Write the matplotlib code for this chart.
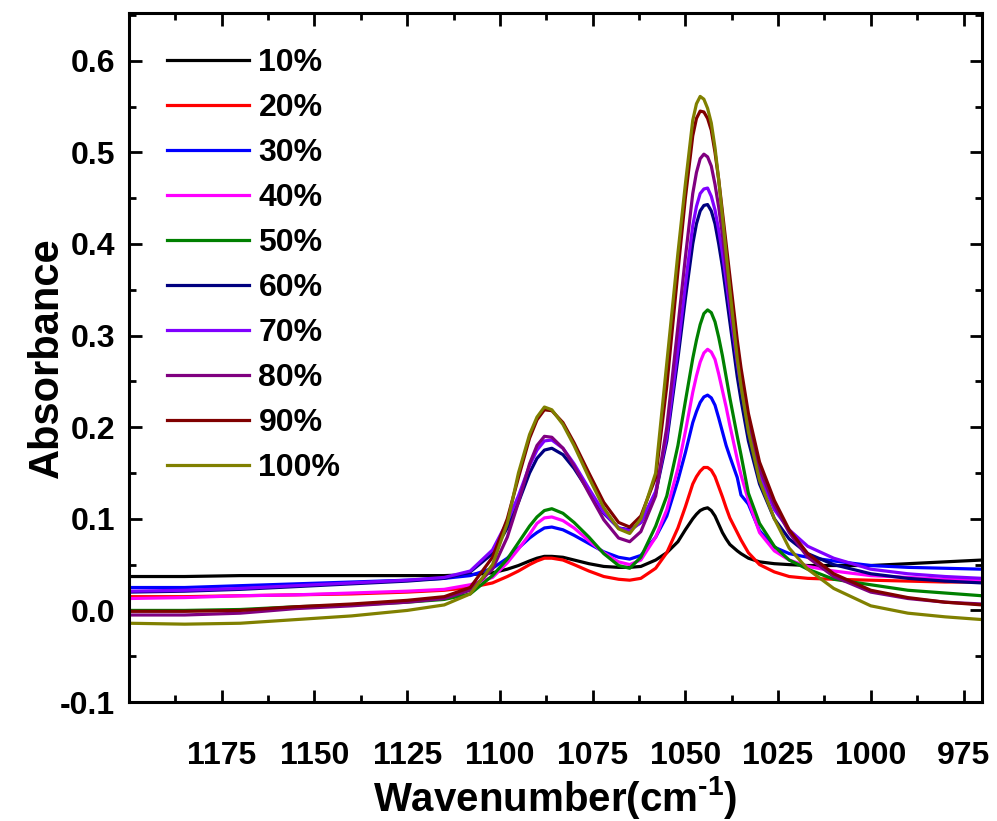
import matplotlib
matplotlib.use('Agg')
import matplotlib.pyplot as plt
from matplotlib.ticker import MultipleLocator

# wavenumber grid (cm-1)
wavenumber = [1200, 1185, 1170, 1155, 1140, 1125, 1115, 1108, 1102, 1098,
              1095, 1092, 1090, 1088, 1086, 1083, 1080, 1076, 1072, 1068,
              1065, 1062, 1058, 1055, 1052, 1050, 1048, 1047, 1046, 1045,
              1044, 1043, 1042, 1041, 1040, 1039, 1038, 1036, 1035, 1033,
              1030, 1026, 1022, 1017, 1010, 1000, 990, 980, 970]

abs_10 = [0.037, 0.037, 0.038, 0.038, 0.038, 0.038, 0.038, 0.039, 0.041, 0.045,
          0.049, 0.054, 0.057, 0.059, 0.059, 0.058, 0.055, 0.051, 0.048, 0.047,
          0.047, 0.048, 0.055, 0.063, 0.075, 0.088, 0.100, 0.105, 0.109, 0.111,
          0.112, 0.109, 0.103, 0.094, 0.085, 0.078, 0.072, 0.065, 0.062, 0.057,
          0.053, 0.051, 0.050, 0.049, 0.049, 0.049, 0.051, 0.053, 0.055]
abs_20 = [0.015, 0.015, 0.016, 0.017, 0.018, 0.020, 0.022, 0.025, 0.030, 0.037,
          0.043, 0.050, 0.054, 0.057, 0.057, 0.055, 0.050, 0.043, 0.037, 0.034,
          0.033, 0.035, 0.046, 0.063, 0.090, 0.113, 0.138, 0.146, 0.152, 0.156,
          0.156, 0.153, 0.146, 0.135, 0.124, 0.112, 0.101, 0.085, 0.077, 0.063,
          0.050, 0.042, 0.037, 0.035, 0.034, 0.033, 0.032, 0.031, 0.031]
abs_30 = [0.025, 0.025, 0.027, 0.029, 0.031, 0.033, 0.035, 0.038, 0.046, 0.057,
          0.068, 0.079, 0.085, 0.090, 0.091, 0.088, 0.082, 0.073, 0.064, 0.058,
          0.056, 0.060, 0.080, 0.103, 0.142, 0.172, 0.205, 0.217, 0.227, 0.233,
          0.235, 0.232, 0.224, 0.210, 0.195, 0.180, 0.168, 0.145, 0.126, 0.116,
          0.087, 0.069, 0.062, 0.058, 0.054, 0.049, 0.047, 0.046, 0.045]
abs_40 = [0.013, 0.014, 0.016, 0.017, 0.019, 0.021, 0.023, 0.028, 0.036, 0.052,
          0.067, 0.083, 0.095, 0.101, 0.102, 0.098, 0.090, 0.076, 0.063, 0.053,
          0.050, 0.055, 0.080, 0.110, 0.155, 0.195, 0.238, 0.256, 0.271, 0.281,
          0.285, 0.282, 0.274, 0.258, 0.240, 0.222, 0.202, 0.165, 0.148, 0.120,
          0.085, 0.065, 0.055, 0.048, 0.043, 0.038, 0.036, 0.034, 0.033]
abs_50 = [0.000, 0.000, 0.001, 0.004, 0.006, 0.009, 0.012, 0.018, 0.038, 0.056,
          0.074, 0.092, 0.102, 0.109, 0.111, 0.106, 0.096, 0.080, 0.062, 0.049,
          0.046, 0.058, 0.092, 0.125, 0.180, 0.228, 0.275, 0.295, 0.312, 0.324,
          0.328, 0.325, 0.315, 0.298, 0.278, 0.255, 0.232, 0.190, 0.170, 0.128,
          0.095, 0.070, 0.055, 0.045, 0.034, 0.028, 0.022, 0.019, 0.016]
abs_60 = [0.020, 0.021, 0.023, 0.026, 0.029, 0.032, 0.035, 0.042, 0.062, 0.090,
          0.118, 0.150, 0.166, 0.175, 0.177, 0.170, 0.155, 0.130, 0.106, 0.090,
          0.088, 0.096, 0.128, 0.185, 0.275, 0.340, 0.400, 0.422, 0.436, 0.442,
          0.443, 0.436, 0.422, 0.400, 0.375, 0.345, 0.315, 0.255, 0.230, 0.185,
          0.138, 0.100, 0.078, 0.062, 0.050, 0.040, 0.035, 0.032, 0.030]
abs_70 = [0.021, 0.022, 0.024, 0.027, 0.030, 0.033, 0.036, 0.043, 0.066, 0.097,
          0.125, 0.158, 0.175, 0.185, 0.186, 0.177, 0.160, 0.133, 0.107, 0.090,
          0.087, 0.096, 0.130, 0.190, 0.285, 0.355, 0.420, 0.441, 0.455, 0.460,
          0.461, 0.452, 0.437, 0.415, 0.390, 0.360, 0.330, 0.270, 0.245, 0.200,
          0.148, 0.110, 0.088, 0.070, 0.057, 0.045, 0.040, 0.037, 0.035]
abs_80 = [-0.005, -0.005, -0.003, 0.002, 0.005, 0.009, 0.013, 0.022, 0.045, 0.080,
          0.118, 0.160, 0.180, 0.190, 0.189, 0.177, 0.158, 0.128, 0.099, 0.079,
          0.075, 0.086, 0.125, 0.200, 0.310, 0.385, 0.455, 0.478, 0.493, 0.498,
          0.495, 0.485, 0.465, 0.440, 0.410, 0.375, 0.340, 0.275, 0.250, 0.205,
          0.155, 0.115, 0.085, 0.058, 0.037, 0.020, 0.013, 0.009, 0.007]
abs_90 = [-0.001, -0.001, 0.000, 0.004, 0.007, 0.011, 0.015, 0.025, 0.058, 0.100,
          0.145, 0.188, 0.208, 0.219, 0.218, 0.205, 0.183, 0.150, 0.118, 0.096,
          0.091, 0.103, 0.145, 0.245, 0.370, 0.450, 0.518, 0.537, 0.545, 0.544,
          0.537, 0.524, 0.500, 0.470, 0.435, 0.400, 0.365, 0.295, 0.265, 0.215,
          0.162, 0.120, 0.088, 0.062, 0.040, 0.022, 0.014, 0.009, 0.006]
abs_100 = [-0.014, -0.015, -0.014, -0.010, -0.006, 0.000, 0.006, 0.018, 0.050, 0.095,
           0.150, 0.192, 0.211, 0.222, 0.219, 0.203, 0.180, 0.145, 0.112, 0.089,
           0.084, 0.100, 0.150, 0.270, 0.390, 0.465, 0.535, 0.553, 0.561, 0.558,
           0.548, 0.532, 0.505, 0.470, 0.430, 0.390, 0.350, 0.275, 0.245, 0.195,
           0.142, 0.100, 0.068, 0.045, 0.024, 0.005, -0.003, -0.007, -0.010]

labels = ['10%', '20%', '30%', '40%', '50%', '60%', '70%', '80%', '90%', '100%']
colors = ['#000000', '#FF0000', '#0000FF', '#FF00FF', '#008000',
          '#000080', '#8000FF', '#800080', '#800000', '#808000']
series = [abs_10, abs_20, abs_30, abs_40, abs_50,
          abs_60, abs_70, abs_80, abs_90, abs_100]

plt.rcParams.update({
    'font.family': ['Liberation Sans', 'DejaVu Sans'],
    'font.weight': 'bold',
    'mathtext.fontset': 'custom',
    'mathtext.rm': 'Liberation Sans:bold',
    'mathtext.bf': 'Liberation Sans:bold',
    'mathtext.default': 'bf',
})

fig = plt.figure(figsize=(9.97, 8.21), dpi=100)
ax = fig.add_axes([0.1294, 0.1449, 0.8556, 0.8392])

for y, c, lab in zip(series, colors, labels):
    ax.plot(wavenumber, y, color=c, lw=2.3, label=lab, solid_joinstyle='round')

ax.set_xlim(1200, 970)
ax.set_ylim(-0.1, 0.652)

ax.xaxis.set_minor_locator(MultipleLocator(12.5))
ax.yaxis.set_minor_locator(MultipleLocator(0.05))
ax.set_xticks([1175, 1150, 1125, 1100, 1075, 1050, 1025, 1000, 975])
ax.set_yticks([-0.1, 0.0, 0.1, 0.2, 0.3, 0.4, 0.5, 0.6])
ax.set_yticklabels(['-0.1', '0.0', '0.1', '0.2', '0.3', '0.4', '0.5', '0.6'])

for s in ax.spines.values():
    s.set_linewidth(2.2)
ax.tick_params(which='both', direction='in', top=True, right=True, width=2.0)
ax.tick_params(which='major', length=9)
ax.tick_params(which='minor', length=5)
ax.tick_params(axis='x', which='major', labelsize=23, pad=28)
ax.tick_params(axis='y', which='major', labelsize=23, pad=10)

ax.set_xlabel(r'Wavenumber(cm$^{\text{-1}}$)', fontsize=29, fontweight='bold')
ax.xaxis.set_label_coords(0.5, -0.1045)
ax.xaxis.label.set_va('top')
ax.set_ylabel('Absorbance', fontsize=30, fontweight='bold')
ax.yaxis.set_label_coords(-0.073, 0.5)

ax.legend(loc='upper left', frameon=False, fontsize=23, handlelength=2.55,
          handletextpad=0.3, labelspacing=0.47, borderaxespad=0.0,
          bbox_to_anchor=(0.03, 0.968))

fig.savefig('out.png', dpi=100)
